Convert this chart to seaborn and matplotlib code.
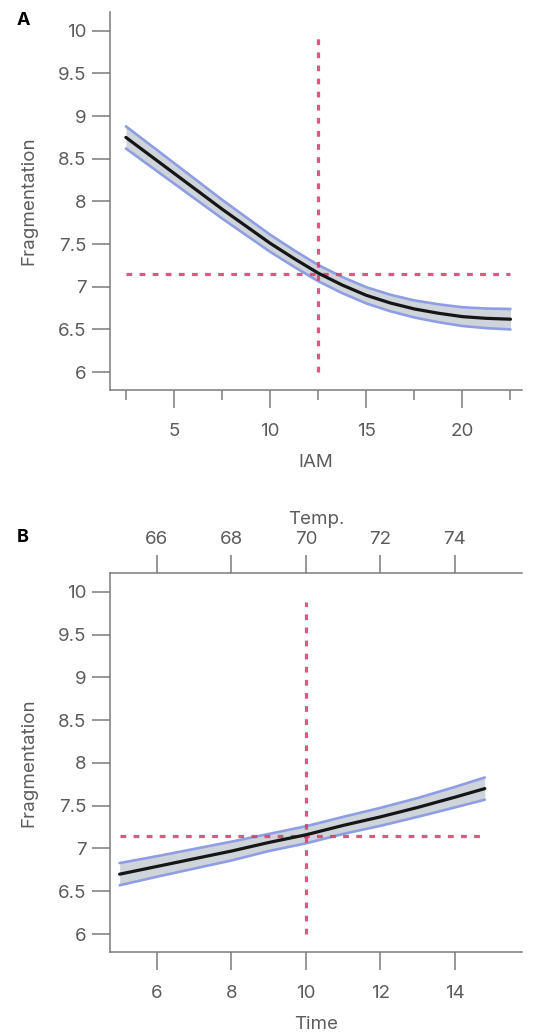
import numpy as np
import pandas as pd
import seaborn as sns
import matplotlib.pyplot as plt

# Panel A: Fragmentation vs IAM
iam = [2.5, 3.75, 5, 6.25, 7.5, 8.75, 10, 11.25, 12.5, 13.75, 15, 16.25, 17.5, 18.75, 20, 21.25, 22.5]
frag_a = [8.75, 8.54, 8.33, 8.12, 7.91, 7.71, 7.51, 7.33, 7.16, 7.02, 6.90, 6.81, 6.74, 6.69, 6.65, 6.63, 6.62]
half_a = [0.13, 0.125, 0.12, 0.115, 0.11, 0.105, 0.10, 0.097, 0.095, 0.095, 0.095, 0.097, 0.10, 0.105, 0.11, 0.115, 0.12]

# Panel B: Fragmentation vs Time (Temp. on top axis)
time = [5, 6, 7, 8, 9, 10, 11, 12, 13, 14, 14.8]
frag_b = [6.70, 6.79, 6.88, 6.97, 7.07, 7.16, 7.27, 7.37, 7.48, 7.60, 7.70]
half_b = [0.13, 0.12, 0.115, 0.11, 0.10, 0.10, 0.10, 0.105, 0.11, 0.12, 0.13]

temp_ticks = [66, 68, 70, 72, 74]
temp_offset = 60  # Temp. = Time + 60

ref_y = 7.15
ref_x_a = 12.5
ref_x_b = 10
y_ticks = [6, 6.5, 7, 7.5, 8, 8.5, 9, 9.5, 10]
y_ticklabels = ['6', '6.5', '7', '7.5', '8', '8.5', '9', '9.5', '10']

sns.set_theme(style='ticks')
plt.rcParams['font.family'] = ['Inter', 'DejaVu Sans']

GREY = '#7a7a7a'
TXT = '#5c5c5c'
REF = '#d83a68'
EDGE = '#8e9ee4'
FILL = '#cfd3da'
FS = 13.5

fig = plt.figure(figsize=(5.41, 10.34), dpi=100)
ax_a = fig.add_axes([0.2033, 0.6228, 0.7616, 0.3656])
ax_b = fig.add_axes([0.2033, 0.0793, 0.7616, 0.3665])


def draw_fit(ax, x, y, half):
    df = pd.DataFrame({'x': x, 'y': y,
                       'lo': np.array(y) - np.array(half),
                       'hi': np.array(y) + np.array(half)})
    ax.fill_between(df['x'], df['lo'], df['hi'], color=FILL, lw=0, zorder=1)
    sns.lineplot(data=df, x='x', y='lo', ax=ax, color=EDGE, lw=1.9, zorder=2)
    sns.lineplot(data=df, x='x', y='hi', ax=ax, color=EDGE, lw=1.9, zorder=2)
    sns.lineplot(data=df, x='x', y='y', ax=ax, color='#151515', lw=2.3, zorder=4)


def draw_refs(ax, x0, x1, xv, ytop):
    ax.plot([x0, x1], [ref_y, ref_y], color=REF, lw=2.3, dashes=(1.8, 2.3), alpha=0.85, zorder=3)
    ax.plot([xv, xv], [6, ytop], color=REF, lw=2.3, dashes=(1.8, 2.3), alpha=0.85, zorder=3)


def style_axes(ax):
    for side in ['left', 'bottom', 'top']:
        ax.spines[side].set_color(GREY)
        ax.spines[side].set_linewidth(1.1)
    ax.spines['right'].set_visible(False)
    ax.spines['top'].set_visible(False)
    ax.set_ylim(5.79, 10.22)
    ax.set_yticks(y_ticks)
    ax.set_yticklabels(y_ticklabels)
    ax.tick_params(axis='y', length=13, width=1.1, color=GREY, labelcolor=TXT, labelsize=FS, pad=4)
    ax.set_ylabel('Fragmentation', fontsize=FS, color=TXT, labelpad=15)


# ---- A ----
draw_fit(ax_a, iam, frag_a, half_a)
draw_refs(ax_a, iam[0], iam[-1], ref_x_a, 9.95)
style_axes(ax_a)
ax_a.set_xlim(1.67, 23.1)
ax_a.set_xticks([5, 10, 15, 20])
ax_a.set_xticks([2.5, 7.5, 12.5, 17.5, 22.5], minor=True)
ax_a.tick_params(axis='x', which='major', length=13, width=1.1, color=GREY,
                 labelcolor=TXT, labelsize=FS, pad=11)
ax_a.tick_params(axis='x', which='minor', length=7.5, width=1.1, color=GREY)
ax_a.set_xlabel('IAM', fontsize=FS, color=TXT, labelpad=10)

# ---- B ----
draw_fit(ax_b, time, frag_b, half_b)
draw_refs(ax_b, time[0], time[-1], ref_x_b, 9.88)
style_axes(ax_b)
ax_b.set_xlim(4.74, 15.8)
ax_b.set_xticks([6, 8, 10, 12, 14])
ax_b.tick_params(axis='x', length=13, width=1.1, color=GREY, labelcolor=TXT, labelsize=FS, pad=11)
ax_b.set_xlabel('Time', fontsize=FS, color=TXT, labelpad=10)

top = ax_b.secondary_xaxis('top', functions=(lambda t: t + temp_offset, lambda t: t - temp_offset))
top.set_xticks(temp_ticks)
top.spines['top'].set_color(GREY)
top.spines['top'].set_linewidth(1.1)
top.tick_params(axis='x', length=13, width=1.1, color=GREY, labelcolor=TXT, labelsize=FS, pad=5)
top.set_xlabel('Temp.', fontsize=FS, color=TXT, labelpad=5)

fig.text(0.031, 0.980, 'A', fontsize=13, fontweight='bold', color='black', va='center')
fig.text(0.031, 0.480, 'B', fontsize=13, fontweight='bold', color='black', va='center')

plt.savefig('out.png', dpi=100)
